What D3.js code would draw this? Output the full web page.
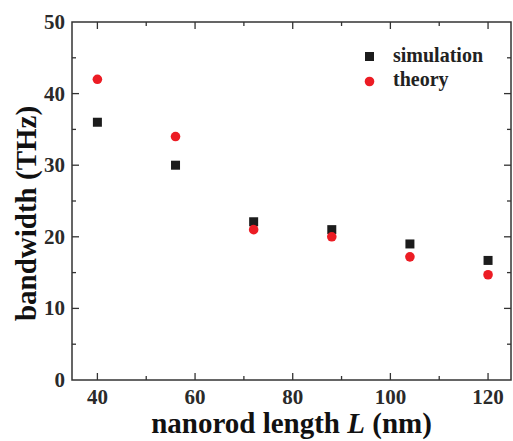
<!DOCTYPE html>
<html>
<head>
<meta charset="utf-8">
<script src="https://cdn.jsdelivr.net/npm/d3@7"></script>
<style>
  body { margin: 0; background: #fff; }
  text { font-family: "Liberation Serif", "Times New Roman", serif; font-weight: bold; }
</style>
</head>
<body>
<div id="chart"></div>
<script>
// data
var lengths = [40, 56, 72, 88, 104, 120];
var simulation = [36, 30, 22.1, 21, 19, 16.7];
var theory = [42, 34, 21, 20, 17.2, 14.7];
var xTicks = [40, 60, 80, 100, 120];
var yTicks = [0, 10, 20, 30, 40, 50];

var svgWidth = 513;
var svgHeight = 441;

var margin = { top: 22, bottom: 61, right: 2, left: 72 };
var width = svgWidth - margin.left - margin.right;
var height = svgHeight - margin.top - margin.bottom;

var svg = d3.select("#chart")
  .append("svg")
  .attr("width", svgWidth)
  .attr("height", svgHeight)
  .style("display", "block");

var chartGroup = svg.append("g")
  .attr("transform", `translate(${margin.left}, ${margin.top})`);

var xScale = d3.scaleLinear()
  .domain([34.8, 124.7])
  .range([0, width]);

var yScale = d3.scaleLinear()
  .domain([0, 50])
  .range([height, 0]);

var axisColor = "#333";

// frame
chartGroup.append("rect")
  .attr("width", width)
  .attr("height", height)
  .attr("fill", "none")
  .attr("stroke", axisColor)
  .attr("stroke-width", 1.5);

// inward ticks, major + minor
var xMinor = [50, 70, 90, 110];
var yMinor = [5, 15, 25, 35, 45];

function drawTicks(vals, len) {
  vals.forEach(function(v) {
    var x = xScale(v);
    chartGroup.append("line").attr("x1", x).attr("x2", x)
      .attr("y1", height).attr("y2", height - len)
      .attr("stroke", axisColor).attr("stroke-width", 1.3);
    chartGroup.append("line").attr("x1", x).attr("x2", x)
      .attr("y1", 0).attr("y2", len)
      .attr("stroke", axisColor).attr("stroke-width", 1.3);
  });
}
function drawYTicks(vals, len) {
  vals.forEach(function(v) {
    var y = yScale(v);
    chartGroup.append("line").attr("x1", 0).attr("x2", len)
      .attr("y1", y).attr("y2", y)
      .attr("stroke", axisColor).attr("stroke-width", 1.3);
    chartGroup.append("line").attr("x1", width).attr("x2", width - len)
      .attr("y1", y).attr("y2", y)
      .attr("stroke", axisColor).attr("stroke-width", 1.3);
  });
}
drawTicks(xTicks, 7);
drawTicks(xMinor, 4);
drawYTicks(yTicks.slice(1, -1), 7);
drawYTicks(yMinor, 4);

// tick labels
chartGroup.selectAll(".xlab")
  .data(xTicks)
  .enter()
  .append("text")
  .attr("x", d => xScale(d))
  .attr("y", height + 24)
  .attr("text-anchor", "middle")
  .attr("font-size", "21px")
  .attr("fill", "#2a2a2a")
  .text(d => d);

chartGroup.selectAll(".ylab")
  .data(yTicks)
  .enter()
  .append("text")
  .attr("x", -7)
  .attr("y", d => yScale(d))
  .attr("dy", "0.33em")
  .attr("text-anchor", "end")
  .attr("font-size", "21px")
  .attr("fill", "#2a2a2a")
  .text(d => d);

// axis titles
chartGroup.append("text")
  .attr("x", 219.5)
  .attr("y", height + 53)
  .attr("text-anchor", "middle")
  .attr("font-size", "29px")
  .attr("fill", "#111")
  .html('nanorod length <tspan font-style="italic">L</tspan> (nm)');

chartGroup.append("text")
  .attr("transform", "rotate(-90)")
  .attr("x", -(213.5 - margin.top))
  .attr("y", -36)
  .attr("text-anchor", "middle")
  .attr("font-size", "29px")
  .attr("fill", "#111")
  .text("bandwidth (THz)");

// points
var simData = lengths.map((d, i) => ({ x: d, y: simulation[i] }));
var theoryData = lengths.map((d, i) => ({ x: d, y: theory[i] }));

chartGroup.selectAll(".sim")
  .data(simData)
  .enter()
  .append("rect")
  .attr("x", d => xScale(d.x) - 4.5)
  .attr("y", d => yScale(d.y) - 4.5)
  .attr("width", 9)
  .attr("height", 9)
  .attr("fill", "#1c1c1c");

chartGroup.selectAll(".theory")
  .data(theoryData)
  .enter()
  .append("circle")
  .attr("cx", d => xScale(d.x))
  .attr("cy", d => yScale(d.y))
  .attr("r", 4.8)
  .attr("fill", "#ec1c24");

// legend
var legend = svg.append("g");
legend.append("rect")
  .attr("x", 365).attr("y", 52)
  .attr("width", 9).attr("height", 9)
  .attr("fill", "#1c1c1c");
legend.append("text")
  .attr("x", 393).attr("y", 62)
  .attr("font-size", "20px")
  .attr("fill", "#222")
  .text("simulation");
legend.append("circle")
  .attr("cx", 369.5).attr("cy", 81.5)
  .attr("r", 4.8)
  .attr("fill", "#ec1c24");
legend.append("text")
  .attr("x", 393).attr("y", 85.5)
  .attr("font-size", "20px")
  .attr("fill", "#222")
  .text("theory");
</script>
</body>
</html>
